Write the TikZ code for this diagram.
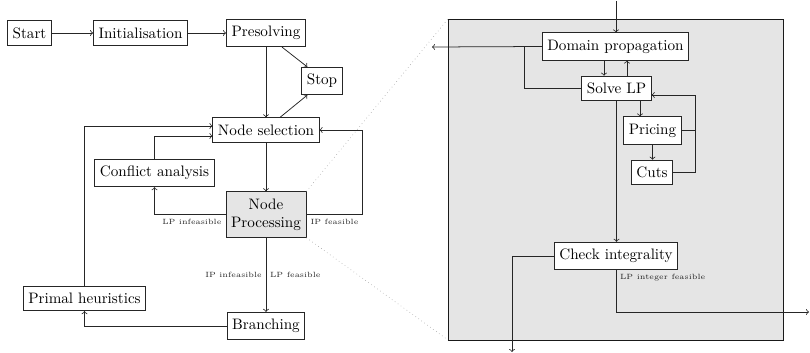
\documentclass[tikz,border=0pt]{standalone}
\usetikzlibrary{calc}
\begin{document}
\begin{tikzpicture}[x=0.66pt,y=-0.66pt,
  box/.style={draw=black!85, line width=0.6pt, fill=white, inner xsep=0.333em, inner ysep=0.45em},
  gbox/.style={box, fill=black!10},
  arr/.style={->, draw=black!85, line width=0.5pt},
  ln/.style={draw=black!85, line width=0.5pt},
  lbl/.style={font=\tiny, inner sep=2.5pt, text=black!85}]
\useasboundingbox (0,0) rectangle (810,353);
% right panel background
\coordinate (pnw) at (448,19);
\coordinate (pse) at (783,340);
\coordinate (psw) at (448,340);
\fill[black!10] (pnw) rectangle (pse);
\draw[black!90, line width=0.6pt] (pnw) rectangle (pse);

% left flowchart
\node[box] (start) at (29.5,33) {Start};
\node[box] (init) at (140.5,33) {Initialisation};
\node[box] (pres) at (266,33) {Presolving};
\node[box] (stop) at (322,81) {Stop};
\node[box] (nsel) at (266,130) {Node selection};
\node[box] (conf) at (154.5,173) {Conflict analysis};
\node[gbox, align=center] (nproc) at (266,214.5) {Node\\Processing};
\node[box] (ph) at (84.5,298.5) {Primal heuristics};
\node[box] (branch) at (266,326) {Branching};

\draw[dotted, black!35] (nproc.north east) -- (pnw);
\draw[dotted, black!35] (nproc.south east) -- (psw);

\draw[arr] (start) -- (init);
\draw[arr] (init) -- (pres);
\draw[arr] (pres.south) -- (pres.south |- nsel.north);
\draw[arr] ($(pres.south)+(16,0)$) -- ($(stop.north west)+(6,0)$);
\draw[arr] ($(nsel.north)+(14,0)$) -- ($(stop.south west)+(6,0)$);
\draw[arr] (nsel.south) -- (nsel.south |- nproc.north);
\draw[arr] (nproc.west) -| node[lbl, pos=0, below left] (l1) {LP infeasible} (conf.south);
\draw[arr] (conf.north) |- ($(nsel.west)+(0,6)$);
\draw[arr] (nproc.east) -- ++(56,0) |- node[lbl, pos=0, below right, xshift=-56*0.66pt] (l2) {IP feasible} (nsel.east);
\draw[arr] (nproc.south) -- node[lbl, midway, left] (l3) {IP infeasible} node[lbl, midway, right] (l4) {LP feasible} (nproc.south |- branch.north);
\draw[arr] (branch.west) -| (ph.south);
\draw[arr] (ph.north) |- ($(nsel.west)+(0,-4)$);

% right panel contents
\node[box] (dom) at (615.5,46.5) {Domain propagation};
\node[box] (solve) at (616.5,88.5) {Solve LP};
\node[box] (pricing) at (652.5,130.5) {Pricing};
\node[box] (cuts) at (652,172.5) {Cuts};
\node[box] (check) at (616,256) {Check integrality};

\coordinate (topin) at (616,1);
\coordinate (leftout) at (432,47);
\coordinate (botout) at (512,352);
\coordinate (rightout) at (809,312);
\coordinate (x604) at (604,0);
\coordinate (x627) at (627,0);
\coordinate (x640) at (640,0);
\coordinate (x695) at (695,0);
\coordinate (x524) at (524,0);
\coordinate (sin) at ($(solve.east)+(0,6.5)$);

\draw[arr] (topin) -- (topin |- dom.north);
\draw[arr] (dom.west) -- (leftout);
\draw[ln] (solve.west) -| (x524 |- dom.west);
\draw[arr] (x604 |- dom.south) -- (x604 |- solve.north);
\draw[arr] (x627 |- solve.north) -- (x627 |- dom.south);
\draw[arr] (x640 |- solve.south) -- (x640 |- pricing.north);
\draw[arr] (pricing.south) -- (pricing.south |- cuts.north);
\draw[arr] (cuts.east) -- (x695 |- cuts.east) -- (x695 |- sin) -- (sin);
\draw[ln] (pricing.east) -- (x695 |- pricing.east);
\draw[arr] (solve.south) -- (solve.south |- check.north);
\draw[arr] (check.west) -| (botout);
\draw[arr] (check.south) |- node[lbl, pos=0, below right] (l5) {LP integer feasible} (rightout);
\end{tikzpicture}
\end{document}
